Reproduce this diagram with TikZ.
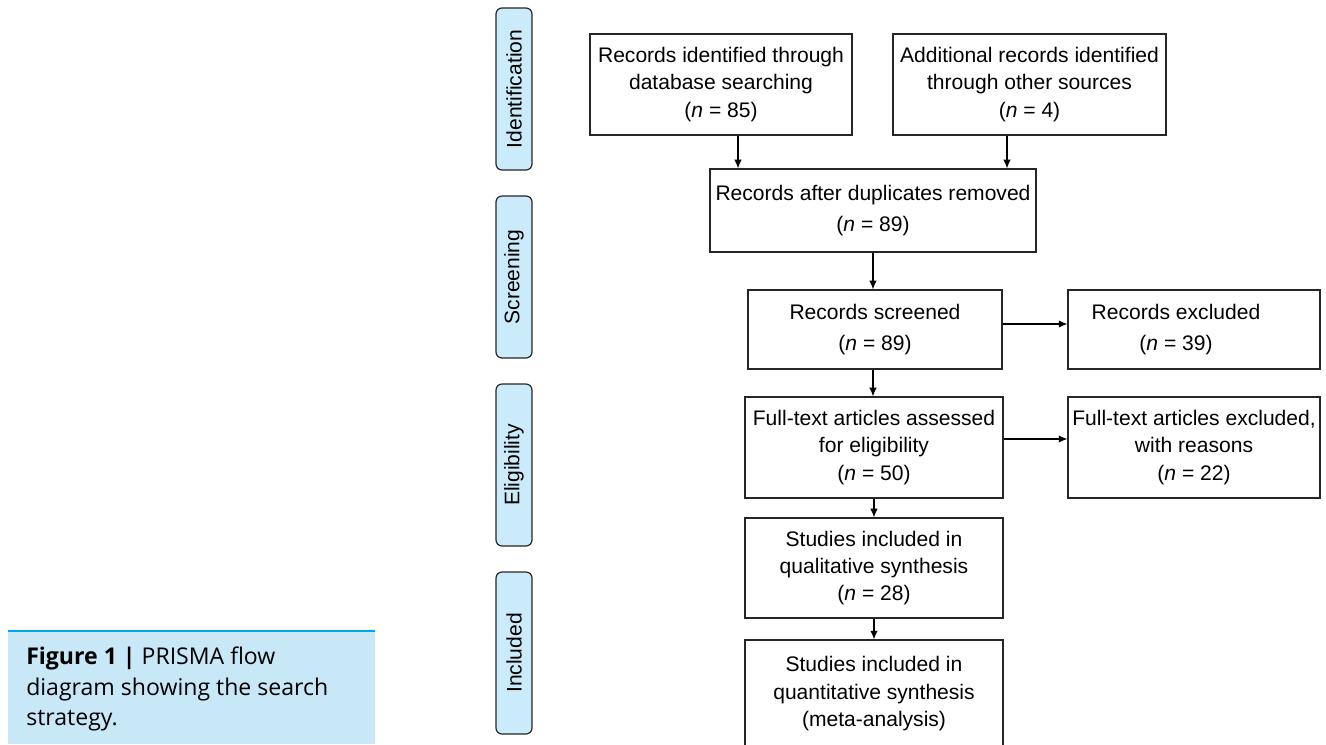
\documentclass[tikz,border=0pt]{standalone}
\usepackage{fontspec}
\setmainfont{Liberation Sans}
\newfontfamily\capfont{Open Sans}
\usetikzlibrary{arrows.meta}

\definecolor{pillblue}{RGB}{204,235,250}
\definecolor{capfill}{RGB}{200,232,248}
\definecolor{capline}{RGB}{0,166,230}

\tikzset{
  box/.style={draw=black!85, line width=0.9pt, align=center, inner sep=2pt,
    font=\fontsize{15.8pt}{20.6pt}\selectfont},
  widebox/.style={box, font=\fontsize{15.8pt}{23.25pt}\selectfont},
  stage/.style={draw=black!85, line width=0.9pt, fill=pillblue, rounded corners=4.5pt,
    rotate=90, minimum width=121.5pt, minimum height=27pt, inner sep=0pt,
    font=\fontsize{15.8pt}{20pt}\selectfont},
  arr/.style={-{Latex[length=6.5pt,width=5.5pt]}, line width=0.8pt}
}

\begin{document}
\begin{tikzpicture}[x=0.75pt,y=-0.75pt]
    \useasboundingbox (0,0) rectangle (1326,744);
    \clip (0,0) rectangle (1326,744);

    % Caption panel
    \fill[capfill] (8,631) rectangle (375,744);
    \draw[capline, line width=2pt] (8,631) -- (375,631);
    \node[anchor=north west, align=left, inner sep=0pt,
      font=\capfont\fontsize{17.3pt}{22.8pt}\selectfont] (caption) at (26,647)
      {\textbf{Figure 1 |} PRISMA flow\\diagram showing the search\\strategy.};

    % Stage labels
    \node[stage] (ident) at (514,89) {Identification};
    \node[stage] (screen) at (514,277) {Screening};
    \node[stage] (elig) at (514,465) {Eligibility};
    \node[stage] (incl) at (514,653) {Included};

    % Flow boxes
    \node[box, minimum width=196.5pt, minimum height=75.75pt] (database) at (721,84.5)
      {Records identified through\\database searching\\(\textit{n} = 85)};
    \node[box, minimum width=204.75pt, minimum height=75.75pt] (other) at (1029.5,84.5)
      {Additional records identified\\through other sources\\(\textit{n} = 4)};
    \node[widebox, minimum width=244.5pt, minimum height=62.25pt] (dedup) at (873,210.5)
      {Records after duplicates removed\\(\textit{n} = 89)};
    \node[widebox, minimum width=190.5pt, minimum height=59.25pt] (screened) at (875,329.5)
      {Records screened\\(\textit{n} = 89)};
    \node[widebox, minimum width=189pt, minimum height=59.25pt] (excluded) at (1194,329.5)
      {Records excluded\hspace*{27pt}\\(\textit{n} = 39)\hspace*{27pt}};
    \node[box, minimum width=193.5pt, minimum height=75.75pt] (fulltext) at (874,447.5)
      {Full-text articles assessed\\for eligibility\\(\textit{n} = 50)};
    \node[box, minimum width=189pt, minimum height=75.75pt] (reasons) at (1194,447.5)
      {Full-text articles excluded,\\with reasons\\(\textit{n} = 22)};
    \node[box, minimum width=193.5pt, minimum height=75pt] (qualit) at (874,568)
      {Studies included in\\qualitative synthesis\\(\textit{n} = 28)};
    \node[box, minimum width=193.5pt, minimum height=81pt] (quantit) at (874,694)
      {Studies included in\\quantitative synthesis\\(meta-analysis)};

    % Connectors
    \draw[arr] ([xshift=12.75pt]database.south) -- ([xshift=12.75pt]database.south |- dedup.north);
    \draw[arr] ([xshift=-16.875pt]other.south) -- ([xshift=-16.875pt]other.south |- dedup.north);
    \draw[arr] (dedup.south) -- (dedup.south |- screened.north);
    \draw[arr] ([yshift=4.125pt]screened.east) -- ([yshift=4.125pt]screened.east -| excluded.west);
    \draw[arr] (screened.south -| dedup.south) -- (fulltext.north -| dedup.south);
    \draw[arr] ([yshift=6.375pt]fulltext.east) -- ([yshift=6.375pt]fulltext.east -| reasons.west);
    \draw[arr] (fulltext.south) -- (qualit.north);
    \draw[arr] (qualit.south) -- (quantit.north);

\end{tikzpicture}
\end{document}
